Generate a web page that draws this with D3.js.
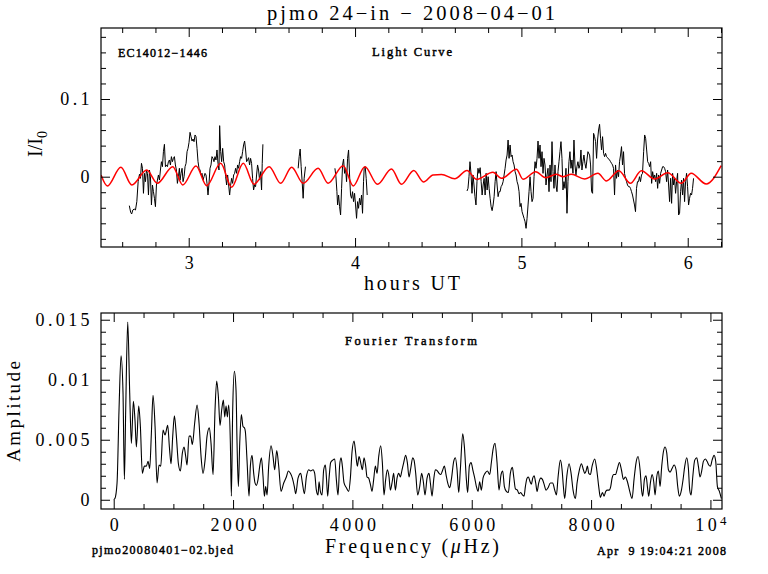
<!DOCTYPE html>
<html><head><meta charset="utf-8">
<script src="https://cdn.jsdelivr.net/npm/d3@7"></script>
<style>
html,body{margin:0;padding:0;background:#fff;}
svg{display:block;font-family:"Liberation Serif",serif;}
</style></head><body>
<svg id="chart" width="768" height="574"></svg>
<script>
// ---------------- text ----------------
const titleText = "pjmo 24\u2212in \u2212 2008\u221204\u221201";
const objectLabel = "EC14012\u22121446";
const lcLabel = "Light Curve";
const ftLabel = "Fourier Transform";
const fileLabel = "pjmo20080401\u221202.bjed";
const dateLabel = "Apr  9 19:04:21 2008";
const xTopTitle = "hours UT";
const xBotTitleParts = ["Frequency (", "\u03BC", "Hz)"];
const yBotTitle = "Amplitude";

// ---------------- ticks ----------------
const xTopMajor = [3, 4, 5, 6];
const xTopLabels = ["3", "4", "5", "6"];
const yTopMajor = [0, 0.1];
const yTopLabels = ["0", "0.1"];
const xBotMajor = [0, 2000, 4000, 6000, 8000, 10000];
const xBotLabels = ["0", "2000", "4000", "6000", "8000", "10^4"];
const yBotMajor = [0, 0.005, 0.01, 0.015];
const yBotLabels = ["0", "0.005", "0.01", "0.015"];

// ---------------- light curve (hours UT, I/I0) ----------------
const lcSeg1 = [[2.643,-0.0373],[2.651,-0.0459],[2.657,-0.0480],[2.664,-0.0429],[2.672,-0.0416],[2.680,-0.0429],[2.688,-0.0321],[2.696,-0.0064],[2.704,0.0031],[2.710,-0.0021],[2.716,0.0172],[2.722,0.0108],[2.728,-0.0214],[2.734,0.0043],[2.740,-0.0064],[2.746,0.0086],[2.752,0.0043],[2.758,-0.0236],[2.764,0.0086],[2.770,0.0000],[2.776,-0.0364],[2.782,-0.0107],[2.788,-0.0193],[2.794,-0.0278],[2.800,-0.0386],[2.806,-0.0107],[2.812,-0.0043],[2.818,0.0022],[2.824,-0.0043],[2.830,0.0086],[2.836,0.0193],[2.842,0.0129],[2.848,0.0322],[2.854,0.0417],[2.860,0.0129],[2.866,0.0151],[2.872,0.0129],[2.878,0.0193],[2.884,0.0215],[2.890,0.0151],[2.896,0.0258],[2.902,0.0193],[2.908,0.0236],[2.914,0.0258],[2.920,0.0151],[2.926,0.0086],[2.932,-0.0086],[2.938,0.0000],[2.944,0.0108],[2.948,-0.0043],[2.954,0.0043],[2.960,0.0108],[2.966,-0.0064],[2.972,0.0000],[2.978,0.0129],[2.984,0.0172],[2.990,0.0322],[2.996,0.0365],[3.002,0.0442],[3.008,0.0571],[3.014,0.0515],[3.020,0.0459],[3.026,0.0485],[3.032,0.0451],[3.038,0.0537],[3.044,0.0515],[3.050,0.0365],[3.056,0.0193],[3.062,0.0108],[3.068,0.0086],[3.074,0.0022],[3.080,0.0043],[3.086,-0.0043],[3.092,0.0000],[3.098,0.0043],[3.104,0.0022],[3.110,-0.0086],[3.116,-0.0236],[3.122,-0.0086],[3.128,0.0108],[3.134,0.0151],[3.140,0.0258],[3.146,0.0236],[3.152,0.0193],[3.158,0.0258],[3.164,0.0215],[3.170,0.0344],[3.176,0.0172],[3.182,0.0086],[3.186,0.0657],[3.192,0.0322],[3.198,0.0193],[3.204,0.0365],[3.210,0.0193],[3.216,0.0151],[3.222,0.0000],[3.228,-0.0107],[3.234,0.0022],[3.240,-0.0107],[3.246,-0.0236],[3.252,-0.0107],[3.258,-0.0021],[3.264,-0.0086],[3.270,0.0022],[3.276,0.0043],[3.282,0.0108],[3.288,0.0043],[3.294,0.0151],[3.300,0.0108],[3.306,0.0193],[3.312,0.0258],[3.318,0.0236],[3.324,0.0322],[3.330,0.0408],[3.336,0.0459],[3.342,0.0344],[3.348,0.0193],[3.354,0.0215],[3.360,0.0245],[3.366,0.0151],[3.372,0.0236],[3.378,0.0172],[3.384,-0.0021],[3.390,-0.0171],[3.396,-0.0107],[3.402,-0.0128],[3.408,0.0022],[3.414,0.0151],[3.420,0.0086],[3.426,-0.0043],[3.432,0.0065],[3.438,-0.0171],[3.442,0.0172],[3.446,0.0417]];
const lcSeg2 = [[3.658,0.0108],[3.664,0.0258],[3.670,0.0356],[3.676,0.0129],[3.682,-0.0064],[3.688,-0.0278],[3.694,-0.0021],[3.702,0.0129]];
const lcSeg3 = [[3.879,0.0108],[3.885,0.0000],[3.891,-0.0193],[3.895,-0.0364],[3.901,-0.0236],[3.907,-0.0386],[3.913,-0.0493],[3.919,-0.0150],[3.925,0.0151],[3.931,0.0227],[3.937,0.0043],[3.943,0.0108],[3.949,-0.0064],[3.955,0.0236],[3.961,0.0344],[3.967,0.0022],[3.973,-0.0236],[3.979,-0.0278],[3.985,-0.0193],[3.991,-0.0321],[3.997,-0.0214],[4.003,-0.0364],[4.009,-0.0536],[4.015,-0.0321],[4.021,-0.0407],[4.027,-0.0278],[4.033,-0.0364],[4.039,-0.0236],[4.045,-0.0471],[4.051,-0.0064],[4.055,0.0108],[4.061,0.0129],[4.067,-0.0021],[4.073,-0.0236]];
const lcSeg4 = [[4.673,-0.0184],[4.679,-0.0150],[4.685,0.0000],[4.691,0.0193],[4.697,0.0043],[4.703,-0.0214],[4.709,0.0022],[4.715,-0.0107],[4.721,-0.0257],[4.727,-0.0364],[4.733,-0.0064],[4.739,0.0108],[4.745,0.0043],[4.752,0.0116],[4.758,-0.0064],[4.764,-0.0236],[4.770,-0.0107],[4.776,-0.0021],[4.782,-0.0236],[4.788,0.0043],[4.794,-0.0171],[4.800,0.0000],[4.806,-0.0150],[4.812,-0.0278],[4.818,-0.0386],[4.824,-0.0437],[4.830,-0.0364],[4.836,-0.0257],[4.842,-0.0064],[4.848,0.0065],[4.854,-0.0107],[4.860,-0.0257],[4.866,-0.0193],[4.872,-0.0193],[4.878,-0.0128],[4.884,-0.0107],[4.890,-0.0064],[4.896,0.0022],[4.902,0.0108],[4.908,0.0215],[4.914,0.0279],[4.920,0.0472],[4.926,0.0236],[4.932,0.0408],[4.938,0.0258],[4.944,0.0279],[4.950,0.0193],[4.956,0.0151],[4.962,0.0065],[4.968,0.0022],[4.974,-0.0064],[4.980,-0.0107],[4.986,-0.0193],[4.992,-0.0386],[4.998,-0.0343],[5.004,-0.0450],[5.010,-0.0493],[5.016,-0.0536],[5.022,-0.0579],[5.028,-0.0665],[5.034,-0.0536],[5.040,-0.0364],[5.046,-0.0193],[5.052,0.0000],[5.058,-0.0193],[5.064,-0.0321],[5.070,-0.0278],[5.076,0.0000],[5.082,0.0193],[5.088,0.0108],[5.094,0.0236],[5.100,0.0459],[5.106,0.0236],[5.112,0.0408],[5.118,0.0129],[5.124,0.0322],[5.130,0.0043],[5.136,0.0236],[5.142,0.0151],[5.148,-0.0107],[5.154,0.0022],[5.160,0.0108],[5.166,-0.0193],[5.172,0.0151],[5.178,-0.0064],[5.184,0.0451],[5.190,0.0065],[5.196,-0.0150],[5.202,0.0151],[5.208,-0.0107],[5.214,-0.0193],[5.220,0.0065],[5.226,0.0193],[5.232,0.0322],[5.238,0.0451],[5.244,0.0236],[5.250,-0.0171],[5.256,-0.0064],[5.262,-0.0150],[5.268,0.0108],[5.274,-0.0471],[5.280,-0.0064],[5.286,0.0193],[5.292,0.0322],[5.298,0.0108],[5.304,0.0215],[5.310,0.0043],[5.316,0.0472],[5.322,0.0151],[5.328,0.0022],[5.334,0.0129],[5.340,0.0193],[5.346,0.0108],[5.352,0.0151],[5.358,0.0344],[5.364,0.0086],[5.370,0.0193],[5.376,0.0279],[5.382,0.0172],[5.388,0.0108],[5.394,0.0215],[5.400,0.0322],[5.410,0.0279],[5.416,0.0151],[5.422,-0.0193],[5.428,-0.0214],[5.434,0.0558],[5.440,0.0515],[5.446,0.0451],[5.452,0.0236],[5.458,0.0472],[5.464,0.0601],[5.470,0.0674],[5.476,0.0494],[5.482,0.0344],[5.488,0.0515],[5.494,0.0301],[5.500,0.0258],[5.506,0.0301],[5.512,0.0258],[5.518,0.0245],[5.524,0.0228],[5.530,0.0215],[5.536,0.0193],[5.542,0.0172],[5.548,0.0151],[5.554,0.0108],[5.560,-0.0236],[5.566,0.0151],[5.572,-0.0021],[5.578,0.0086],[5.584,0.0000],[5.590,0.0193],[5.596,0.0279],[5.602,0.0387],[5.608,0.0151],[5.614,0.0322],[5.620,0.0043],[5.626,-0.0021],[5.632,-0.0064],[5.638,-0.0107],[5.644,-0.0128],[5.650,-0.0128],[5.656,-0.0150],[5.662,-0.0193],[5.668,-0.0236],[5.674,-0.0300],[5.680,-0.0364],[5.686,-0.0450],[5.692,-0.0150],[5.698,-0.0064],[5.704,-0.0064],[5.710,0.0000],[5.716,-0.0064],[5.722,0.0022],[5.728,0.0043],[5.735,0.0322],[5.741,0.0537],[5.747,0.0494],[5.753,0.0344],[5.759,0.0193],[5.765,0.0172],[5.771,0.0129],[5.777,0.0193],[5.783,-0.0086],[5.789,0.0065],[5.795,-0.0021],[5.801,0.0022],[5.807,-0.0064],[5.813,0.0043],[5.819,-0.0150],[5.825,0.0022],[5.831,-0.0086],[5.837,0.0043],[5.843,0.0086],[5.849,0.0129],[5.855,0.0129],[5.861,0.0108],[5.867,0.0065],[5.873,-0.0064],[5.879,0.0086],[5.885,-0.0107],[5.891,-0.0321],[5.897,-0.0021],[5.903,-0.0343],[5.909,0.0043],[5.915,-0.0107],[5.921,-0.0021],[5.927,-0.0214],[5.933,-0.0064],[5.939,0.0043],[5.945,-0.0493],[5.951,-0.0471],[5.957,-0.0193],[5.963,-0.0043],[5.969,-0.0236],[5.975,-0.0021],[5.981,-0.0321],[5.987,-0.0064],[5.993,0.0043],[5.999,-0.0128],[6.005,-0.0364],[6.011,-0.0278],[6.017,-0.0214],[6.023,-0.0236],[6.029,-0.0150],[6.035,-0.0021]];

// ---------------- multi-sine fit: extrema (hours UT, I/I0) ----------------
const fitExtrema = [[2.473,0.0020],[2.511,-0.0120],[2.592,0.0121],[2.658,-0.0107],[2.748,0.0086],[2.811,-0.0085],[2.904,0.0129],[2.964,-0.0107],[3.044,0.0138],[3.108,-0.0116],[3.192,0.0172],[3.258,-0.0136],[3.328,0.0172],[3.392,-0.0098],[3.484,0.0129],[3.553,-0.0085],[3.619,0.0121],[3.688,-0.0085],[3.778,0.0108],[3.838,-0.0085],[3.929,0.0142],[3.989,-0.0120],[4.059,0.0129],[4.135,-0.0098],[4.219,0.0099],[4.279,-0.0098],[4.353,0.0080],[4.411,-0.0068],[4.469,0.0022],[4.520,0.0028],[4.599,-0.0027],[4.673,0.0080],[4.730,-0.0033],[4.829,0.0057],[4.880,-0.0021],[4.970,0.0095],[5.010,-0.0033],[5.086,0.0064],[5.146,-0.0013],[5.210,0.0031],[5.250,0.0000],[5.300,0.0031],[5.380,-0.0030],[5.460,0.0044],[5.511,-0.0055],[5.586,0.0077],[5.655,-0.0085],[5.721,0.0077],[5.801,-0.0030],[5.880,0.0051],[5.961,-0.0085],[6.021,0.0044],[6.111,-0.0094],[6.201,0.0142]];

// ---------------- amplitude spectrum (µHz, amplitude) ----------------
const ftSpectrum = [[0,0],[20,0.0001],[56,0.0014],[89,0.0075],[123,0.0120],[156,0.0089],[179,0.0017],[201,0.0075],[235,0.0148],[268,0.0089],[296,0.0047],[330,0.0082],[357,0.0066],[380,0.0044],[419,0.0078],[447,0.0061],[480,0.0022],[514,0.0028],[547,0.0028],[575,0.0032],[603,0.0026],[631,0.0055],[659,0.0087],[693,0.0061],[726,0.0014],[760,0.0029],[788,0.0028],[827,0.0058],[860,0.0054],[905,0.0062],[933,0.0044],[961,0.0030],[989,0.0053],[1017,0.0070],[1050,0.0053],[1084,0.0030],[1117,0.0024],[1151,0.0039],[1179,0.0044],[1207,0.0036],[1229,0.0029],[1262,0.0053],[1290,0.0053],[1318,0.0046],[1357,0.0064],[1397,0.0079],[1430,0.0064],[1464,0.0036],[1497,0.0022],[1531,0.0033],[1564,0.0053],[1603,0.0060],[1631,0.0047],[1665,0.0021],[1698,0.0075],[1726,0.0099],[1754,0.0086],[1782,0.0062],[1810,0.0075],[1838,0.0083],[1860,0.0069],[1883,0.0078],[1905,0.0069],[1927,0.0079],[1955,0.0047],[1972,0.0003],[1994,0.0075],[2022,0.0107],[2050,0.0091],[2067,0.0047],[2089,0.0011],[2112,0.0047],[2139,0.0071],[2167,0.0061],[2190,0.0060],[2206,0.0057],[2234,0.0033],[2268,0.0003],[2290,0.0028],[2318,0.0037],[2346,0.0022],[2368,0.0014],[2391,0.0012],[2419,0.0017],[2447,0.0028],[2475,0.0035],[2503,0.0019],[2525,0.0003],[2547,0.0011],[2570,0.0004],[2597,0.0028],[2637,0.0045],[2670,0.0036],[2698,0.0025],[2732,0.0041],[2765,0.0028],[2804,0.0007],[2849,0.0014],[2893,0.0019],[2927,0.0024],[2961,0.0022],[2994,0.0018],[3027,0.0011],[3050,0.0005],[3089,0.0018],[3134,0.0022],[3162,0.0014],[3195,0.0005],[3229,0.0019],[3268,0.0025],[3301,0.0024],[3340,0.0025],[3368,0.0022],[3396,0.0008],[3424,0.0004],[3441,0.0015],[3463,0.0007],[3491,0.0004],[3519,0.0025],[3547,0.0029],[3564,0.0019],[3586,0.0003],[3609,0.0018],[3636,0.0031],[3670,0.0033],[3704,0.0034],[3731,0.0017],[3759,0.0004],[3787,0.0029],[3810,0.0035],[3832,0.0028],[3860,0.0014],[3899,0.0010],[3938,0.0007],[3966,0.0018],[3994,0.0040],[4028,0.0049],[4055,0.0039],[4083,0.0028],[4111,0.0036],[4139,0.0031],[4167,0.0025],[4195,0.0035],[4223,0.0028],[4245,0.0019],[4273,0.0018],[4301,0.0013],[4329,0.0007],[4357,0.0017],[4385,0.0028],[4413,0.0022],[4441,0.0036],[4474,0.0045],[4502,0.0031],[4530,0.0004],[4558,0.0017],[4586,0.0025],[4614,0.0019],[4636,0.0008],[4664,0.0014],[4692,0.0022],[4720,0.0008],[4748,0.0018],[4776,0.0022],[4804,0.0019],[4832,0.0025],[4860,0.0031],[4893,0.0037],[4921,0.0031],[4949,0.0019],[4977,0.0026],[5011,0.0035],[5033,0.0033],[5061,0.0022],[5094,0.0004],[5128,0.0011],[5161,0.0022],[5189,0.0015],[5217,0.0004],[5251,0.0018],[5284,0.0022],[5307,0.0014],[5335,0.0003],[5363,0.0017],[5391,0.0025],[5424,0.0024],[5452,0.0022],[5480,0.0021],[5508,0.0024],[5541,0.0028],[5569,0.0021],[5597,0.0014],[5631,0.0010],[5659,0.0017],[5698,0.0032],[5726,0.0035],[5754,0.0025],[5782,0.0006],[5809,0.0025],[5849,0.0055],[5877,0.0044],[5910,0.0017],[5932,0.0006],[5960,0.0028],[5988,0.0031],[6022,0.0024],[6050,0.0018],[6078,0.0011],[6106,0.0007],[6133,0.0015],[6161,0.0008],[6189,0.0018],[6223,0.0022],[6262,0.0024],[6301,0.0021],[6329,0.0031],[6357,0.0042],[6390,0.0047],[6424,0.0031],[6457,0.0008],[6491,0.0021],[6519,0.0024],[6547,0.0011],[6580,0.0007],[6614,0.0006],[6647,0.0022],[6681,0.0027],[6704,0.0019],[6732,0.0009],[6765,0.0008],[6793,0.0005],[6821,0.0006],[6849,0.0004],[6877,0.0003],[6899,0.0011],[6927,0.0018],[6950,0.0019],[6978,0.0015],[7000,0.0013],[7022,0.0018],[7045,0.0020],[7072,0.0014],[7095,0.0007],[7123,0.0014],[7156,0.0018],[7184,0.0017],[7212,0.0013],[7246,0.0008],[7279,0.0010],[7318,0.0014],[7357,0.0014],[7391,0.0008],[7419,0.0004],[7447,0.0019],[7486,0.0033],[7514,0.0025],[7536,0.0011],[7558,0.0001],[7592,0.0019],[7631,0.0030],[7665,0.0022],[7698,0.0008],[7737,0.0001],[7765,0.0014],[7804,0.0025],[7838,0.0030],[7871,0.0025],[7894,0.0022],[7916,0.0024],[7938,0.0028],[7961,0.0022],[7989,0.0021],[8017,0.0028],[8061,0.0034],[8095,0.0025],[8128,0.0011],[8156,0.0002],[8190,0.0006],[8218,0.0003],[8246,0.0007],[8274,0.0008],[8301,0.0008],[8329,0.0011],[8352,0.0018],[8380,0.0021],[8408,0.0021],[8441,0.0026],[8475,0.0031],[8508,0.0025],[8542,0.0017],[8575,0.0019],[8609,0.0015],[8648,0.0007],[8687,0.0001],[8720,0.0017],[8754,0.0031],[8787,0.0036],[8821,0.0025],[8849,0.0007],[8866,0.0003],[8894,0.0017],[8921,0.0020],[8944,0.0011],[8966,0.0003],[8994,0.0014],[9022,0.0021],[9050,0.0015],[9072,0.0004],[9100,0.0019],[9128,0.0024],[9156,0.0011],[9184,0.0028],[9212,0.0040],[9240,0.0044],[9268,0.0039],[9296,0.0025],[9324,0.0023],[9357,0.0026],[9391,0.0029],[9424,0.0025],[9452,0.0011],[9480,0.0003],[9514,0.0008],[9542,0.0017],[9570,0.0028],[9603,0.0035],[9631,0.0026],[9653,0.0008],[9676,0.0004],[9704,0.0019],[9737,0.0033],[9771,0.0035],[9798,0.0028],[9826,0.0019],[9854,0.0024],[9882,0.0032],[9916,0.0034],[9944,0.0032],[9972,0.0029],[10000,0.0028],[10028,0.0033],[10061,0.0037],[10089,0.0032],[10117,0.0011],[10150,0.0007],[10184,0.0001]];

// ---------------- drawing ----------------
const svg = d3.select("#chart");
const topBox = {x0: 101, x1: 722, y0: 28, y1: 247};
const botBox = {x0: 101, x1: 722, y0: 313, y1: 509};

const xTop = d3.scaleLinear().domain([2.4727, 6.206]).range([topBox.x0, topBox.x1]);
const yTop = d3.scaleLinear().domain([-0.0905, 0.1914]).range([topBox.y1, topBox.y0]);
const xBot = d3.scaleLinear().domain([-213, 10194]).range([botBox.x0, botBox.x1]);
const yBot = d3.scaleLinear().domain([-0.00077, 0.01556]).range([botBox.y1, botBox.y0]);

const MAJ = 9, MIN = 5;
const tickFont = 18, tickSpacing = 3.4;

function axisSet(box, x, y, xMajor, xMinor, yMajor, yMinor, xLabels, yLabels) {
  const g = svg.append("g");
  function put(axisFn, scale, vals, size, labels, tx, ty, pad) {
    const a = axisFn(scale).tickValues(vals).tickSize(-size).tickPadding(pad || 0)
      .tickFormat(labels ? ((d, i) => labels[i]) : () => "");
    const gg = g.append("g").attr("transform", `translate(${tx},${ty})`).call(a);
    gg.select(".domain").remove();
    gg.selectAll(".tick line").attr("stroke", "#000").attr("stroke-width", 1);
    gg.attr("font-family", "Liberation Serif, serif").attr("font-size", tickFont);
    gg.selectAll(".tick text").attr("fill", "#000").style("letter-spacing", tickSpacing + "px");
    return gg;
  }
  const gb = put(d3.axisBottom, x, xMajor, MAJ, xLabels, 0, box.y1, 9);
  gb.selectAll(".tick text").attr("dx", tickSpacing / 2);
  put(d3.axisBottom, x, xMinor, MIN, null, 0, box.y1);
  put(d3.axisTop, x, xMajor, MAJ, null, 0, box.y0);
  put(d3.axisTop, x, xMinor, MIN, null, 0, box.y0);
  put(d3.axisLeft, y, yMajor, MAJ, yLabels, box.x0, 0, 8);
  put(d3.axisLeft, y, yMinor, MIN, null, box.x0, 0);
  put(d3.axisRight, y, yMajor, MAJ, null, box.x1, 0);
  put(d3.axisRight, y, yMinor, MIN, null, box.x1, 0);
  g.append("rect").attr("x", box.x0).attr("y", box.y0)
    .attr("width", box.x1 - box.x0).attr("height", box.y1 - box.y0)
    .attr("fill", "none").attr("stroke", "#000").attr("stroke-width", 1.2);
  return gb;
}

const xTopMinor = d3.range(13, 32).filter(i => i % 5 !== 0).map(i => i / 5);
const yTopMinor = d3.range(-4, 10).filter(i => i % 5 !== 0).map(i => i * 0.02);
const xBotMinor = d3.range(0, 21).filter(i => i % 4 !== 0).map(i => i * 500);
const yBotMinor = d3.range(0, 16).filter(i => i % 5 !== 0).map(i => i * 0.001);

const defs = svg.append("defs");
defs.append("clipPath").attr("id", "clipTop").append("rect")
  .attr("x", topBox.x0).attr("y", topBox.y0).attr("width", topBox.x1 - topBox.x0).attr("height", topBox.y1 - topBox.y0);
defs.append("clipPath").attr("id", "clipBot").append("rect")
  .attr("x", botBox.x0).attr("y", botBox.y0).attr("width", botBox.x1 - botBox.x0).attr("height", botBox.y1 - botBox.y0);

// light curve
const lcLine = d3.line().x(d => xTop(d[0])).y(d => yTop(d[1]));
const gTop = svg.append("g").attr("clip-path", "url(#clipTop)");
[lcSeg1, lcSeg2, lcSeg3, lcSeg4].forEach(seg => {
  gTop.append("path").attr("d", lcLine(seg)).attr("fill", "none")
    .attr("stroke", "#000").attr("stroke-width", 1).attr("stroke-linejoin", "round");
});
const fitLine = d3.line().curve(d3.curveMonotoneX).x(d => xTop(d[0])).y(d => yTop(d[1]));
gTop.append("path").attr("d", fitLine(fitExtrema)).attr("fill", "none")
  .attr("stroke", "#ff0000").attr("stroke-width", 1.5);

// spectrum
const ftLine = d3.line().curve(d3.curveMonotoneX).x(d => xBot(d[0])).y(d => yBot(d[1]));
svg.append("g").attr("clip-path", "url(#clipBot)").append("path")
  .attr("d", ftLine(ftSpectrum)).attr("fill", "none")
  .attr("stroke", "#000").attr("stroke-width", 1.1).attr("stroke-linejoin", "round");

// axes
axisSet(topBox, xTop, yTop, xTopMajor, xTopMinor, yTopMajor, yTopMinor, xTopLabels, yTopLabels);
const gbBot = axisSet(botBox, xBot, yBot, xBotMajor, xBotMinor, yBotMajor, yBotMinor, xBotLabels, yBotLabels);
gbBot.selectAll(".tick text").each(function (d) {
  if (d === 10000) {
    const t = d3.select(this).text("10");
    t.append("tspan").attr("font-size", 13).attr("dy", "-0.45em").text("4");
  }
});

// texts
function txt(s, x, y, size, len, opts = {}) {
  const t = svg.append("text").attr("x", x).attr("y", y).attr("font-size", size)
    .attr("fill", "#000").attr("text-anchor", opts.anchor || "start")
    .style("white-space", "pre").text(s);
  if (len) t.attr("textLength", len).attr("lengthAdjust", "spacing");
  if (opts.rotate) t.attr("transform", `rotate(-90,${x},${y})`);
  if (opts.medium) t.attr("stroke", "#000").attr("stroke-width", 0.45);
  return t;
}
txt(titleText, 267, 20, 20.5, 288);
txt(objectLabel, 118, 56.5, 12, 89, {medium: true});
txt(lcLabel, 372, 55.5, 12.5, 80, {medium: true});
txt(ftLabel, 345, 345, 12.5, 132, {medium: true});
txt(fileLabel, 92, 554, 12, 141, {medium: true});
txt(dateLabel, 597, 554.5, 12, 129, {medium: true});
txt(xTopTitle, 364, 289.5, 20, 96);
const xb = svg.append("text").attr("x", 325).attr("y", 553).attr("font-size", 20)
  .attr("fill", "#000").attr("textLength", 174).attr("lengthAdjust", "spacing");
xb.append("tspan").text(xBotTitleParts[0]);
xb.append("tspan").attr("font-style", "italic").text(xBotTitleParts[1]);
xb.append("tspan").text(xBotTitleParts[2]);
txt(yBotTitle, 19.5, 462, 19, 101, {rotate: true});
const yl = svg.append("text").attr("x", 41.5).attr("y", 157).attr("font-size", 20)
  .attr("fill", "#000").attr("transform", "rotate(-90,41.5,157)");
yl.append("tspan").text("I/I");
yl.append("tspan").attr("font-size", 14).attr("dy", 5).text("0");
</script>
</body></html>
